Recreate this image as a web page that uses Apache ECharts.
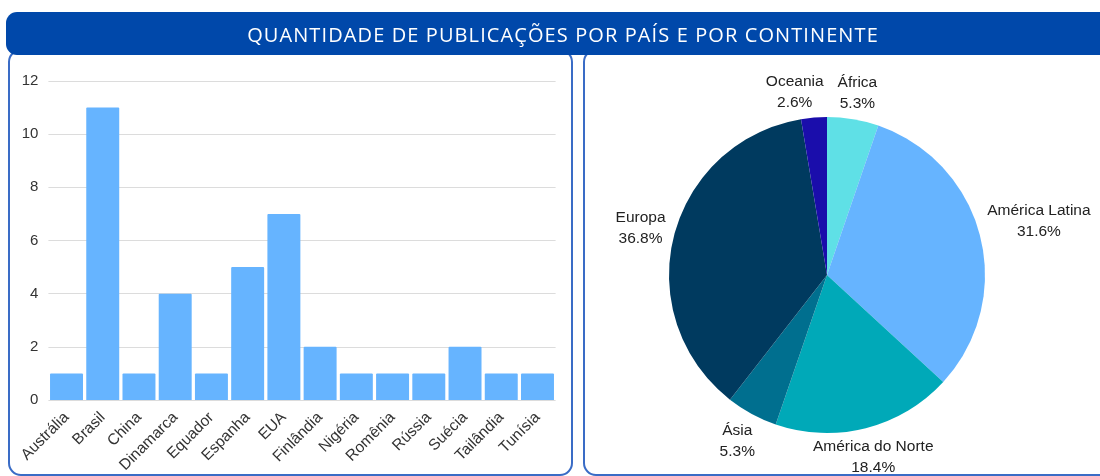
<!DOCTYPE html>
<html>
<head>
<meta charset="utf-8">
<script src="https://cdn.jsdelivr.net/npm/echarts@6/dist/echarts.min.js"></script>
<style>
  html, body { margin: 0; padding: 0; background: #fff; }
  #wrap { position: relative; width: 1100px; height: 476px; }
  #chart { width: 1100px; height: 476px; }
  #titulo {
    position: absolute; left: 6px; top: 13px; width: 1114px; height: 43px;
    line-height: 43px; text-align: center; color: #fff;
    font-family: 'Open Sans', sans-serif; font-size: 20px; letter-spacing: 1.1px;
    z-index: 5; white-space: nowrap;
  }
</style>
</head>
<body>
<div id="wrap">
  <div id="chart"></div>
  <div id="titulo">QUANTIDADE DE PUBLICAÇÕES POR PAÍS E POR CONTINENTE</div>
</div>
<script>
// dados do gráfico de barras (publicações por país)
const paises = ["Austrália", "Brasil", "China", "Dinamarca", "Equador", "Espanha", "EUA",
  "Finlândia", "Nigéria", "Romênia", "Rússia", "Suécia", "Tailândia", "Tunísia"];
const publicacoes = [1, 11, 1, 4, 1, 5, 7, 2, 1, 1, 1, 2, 1, 1];
const yTicks = [0, 2, 4, 6, 8, 10, 12];

// dados da pizza (por continente), na ordem horária a partir do topo
const continentes = ["África", "América Latina", "América do Norte", "Ásia", "Europa", "Oceania"];
const porContinente = [2, 12, 7, 2, 14, 1];
const coresContinente = ["#5fe0e6", "#66b4ff", "#00a9b8", "#006f8f", "#003a5f", "#1a0dab"];

const PIE_CX = 827, PIE_CY = 275, PIE_R = 158;
const GAP = 6; // folga entre a pizza e a caixa do rótulo
const total = porContinente.reduce((a, b) => a + b, 0);

// ângulo médio de cada fatia (graus, sentido horário a partir de 90°)
const angMedio = [];
let acc = 0;
porContinente.forEach(v => {
  const a0 = 90 - acc / total * 360;
  acc += v;
  const a1 = 90 - acc / total * 360;
  angMedio.push((a0 + a1) / 2);
});

// distância do centro da pizza ao ponto mais próximo de uma caixa
function distCaixa(cx, cy, a, b) {
  const nx = Math.max(cx - a, Math.min(PIE_CX, cx + a));
  const ny = Math.max(cy - b, Math.min(PIE_CY, cy + b));
  return Math.hypot(nx - PIE_CX, ny - PIE_CY);
}

// caixas dos rótulos já posicionados (para evitar sobreposição)
let caixas = [];

const myChart = echarts.init(document.getElementById("chart"));

myChart.setOption({
  animation: false,
  textStyle: { fontFamily: "Liberation Sans, Arial, sans-serif" },
  graphic: [
    {
      type: "rect", z: 1,
      shape: { x: 9, y: 50, width: 563, height: 425, r: 12 },
      style: { fill: "none", stroke: "#3a6cc6", lineWidth: 2 }
    },
    {
      type: "rect", z: 1,
      shape: { x: 584, y: 50, width: 540, height: 425, r: 12 },
      style: { fill: "none", stroke: "#3a6cc6", lineWidth: 2 }
    },
    {
      type: "rect", z: 2,
      shape: { x: 6, y: 12, width: 1120, height: 43, r: 11 },
      style: { fill: "#0048aa" }
    }
  ],
  grid: { left: 48.4, top: 81, width: 507.2, height: 319 },
  xAxis: {
    type: "category",
    data: paises,
    axisLine: { show: false },
    axisTick: { show: false },
    axisLabel: { rotate: 45, fontSize: 15.5, color: "#333", margin: 15, interval: 0 }
  },
  yAxis: {
    type: "value",
    min: yTicks[0],
    max: yTicks[yTicks.length - 1],
    interval: 2,
    axisLabel: { fontSize: 15, color: "#333", margin: 10 },
    splitLine: { lineStyle: { color: "#dcdcdc" } }
  },
  series: [
    {
      type: "bar",
      data: publicacoes,
      barCategoryGap: "9%",
      itemStyle: { color: "#66b4ff", borderRadius: [1, 1, 0, 0] },
      z: 5
    },
    {
      type: "pie",
      center: [PIE_CX, PIE_CY],
      radius: PIE_R,
      startAngle: 90,
      clockwise: true,
      percentPrecision: 1,
      z: 5,
      data: continentes.map((n, i) => ({
        name: n, value: porContinente[i], itemStyle: { color: coresContinente[i] }
      })),
      label: {
        show: true,
        position: "outside",
        overflow: "none",
        formatter: "{a|{b}}\n{a|{d}%}",
        rich: { a: { fontSize: 15.5, color: "#222", lineHeight: 21, align: "center" } }
      },
      labelLine: { show: false },
      labelLayout: function (p) {
        if (p.dataIndex === 0) caixas = [];
        const ang = angMedio[p.dataIndex] * Math.PI / 180;
        const ux = Math.cos(ang), uy = -Math.sin(ang);
        const w = p.labelRect.width, h = p.labelRect.height;
        // procura, ao longo do ângulo médio, a posição com a folga desejada
        let lo = 0, hi = PIE_R + 200;
        for (let k = 0; k < 40; k++) {
          const t = (lo + hi) / 2;
          if (distCaixa(PIE_CX + ux * t, PIE_CY + uy * t, w / 2, h / 2) < PIE_R + GAP) lo = t;
          else hi = t;
        }
        let x = PIE_CX + ux * hi;
        const y = PIE_CY + uy * hi;
        // afasta horizontalmente de rótulos vizinhos
        caixas.forEach(c => {
          if (Math.abs(c.y - y) < (c.h + h) / 2) {
            const need = (c.w + w) / 2 + 14 - Math.abs(c.x - x);
            if (need > 0) x += (ux < 0 ? -need : need);
          }
        });
        caixas.push({ x: x, y: y, w: w, h: h });
        return { x: x, y: y, align: "center", verticalAlign: "middle" };
      }
    }
  ]
});

window.addEventListener("resize", function () {
  myChart.resize();
});
</script>
</body>
</html>
